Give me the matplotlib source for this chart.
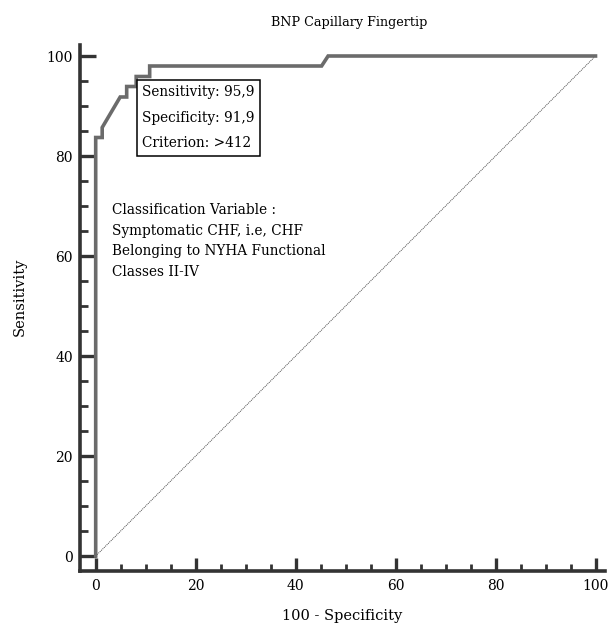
import matplotlib
matplotlib.use("Agg")
import matplotlib.pyplot as plt
from matplotlib.ticker import MultipleLocator

# ROC curve points (100 - specificity, sensitivity)
fpr = [0, 0, 1.3, 1.3, 4.9, 6.2, 6.2, 8.1, 8.1, 10.8, 10.8, 45.2, 46.5, 100]
tpr = [0, 83.7, 83.7, 85.7, 91.8, 91.8, 93.9, 93.9, 95.9, 95.9, 98.0, 98.0, 100, 100]

# Optimal criterion
crit_fpr = 8.1
crit_sens = 95.9
crit_spec = 91.9
crit_label = ">412"

title = "BNP Capillary Fingertip"
xlabel = "100 - Specificity"
ylabel = "Sensitivity"
note_lines = ["Classification Variable :",
              "Symptomatic CHF, i.e, CHF",
              "Belonging to NYHA Functional",
              "Classes II-IV"]
major_ticks = [0, 20, 40, 60, 80, 100]

plt.rcParams['font.family'] = ['DejaVu Serif']
fig = plt.figure(figsize=(6.13, 6.25), dpi=100)
ax = fig.add_axes([80/613, 1-571/625, (605-80)/613, (571-45)/625])

ax.set_xlim(-3.14, 101.9)
ax.set_ylim(-3.0, 102.2)

# chance line
ax.plot([0, 100], [0, 100], color='#444444', lw=0.7, ls=(0, (1.0, 1.0)))
# ROC curve
ax.plot(fpr, tpr, color='#6b6b6b', lw=2.6, solid_joinstyle='miter', zorder=3)

for s in ['top', 'right']:
    ax.spines[s].set_visible(False)
for s in ['left', 'bottom']:
    ax.spines[s].set_linewidth(2.6)
    ax.spines[s].set_color('#333333')

ax.set_xticks(major_ticks)
ax.set_yticks(major_ticks)
ax.xaxis.set_minor_locator(MultipleLocator(5))
ax.yaxis.set_minor_locator(MultipleLocator(5))
ax.tick_params(axis='x', which='major', direction='in', length=9.5, width=2.4,
               color='#333333', labelsize=10, pad=6)
ax.tick_params(axis='x', which='minor', direction='in', length=5, width=2.0,
               color='#333333')
ax.tick_params(axis='y', which='major', direction='in', length=11.5, width=2.4,
               color='#333333', labelsize=10, pad=5)
ax.tick_params(axis='y', which='minor', direction='in', length=5.8, width=2.0,
               color='#333333')

ax.set_xlabel(xlabel, fontsize=10.5, labelpad=11)
ax.set_ylabel(ylabel, fontsize=10.5)
ax.yaxis.set_label_coords(-0.102, 0.521)
ax.set_title(title, fontsize=9.2, pad=14, x=(349-80)/(605-80))

box_text = f"Sensitivity: {crit_sens:.1f}\nSpecificity: {crit_spec:.1f}\nCriterion: {crit_label}".replace('.', ',')
ax.text(crit_fpr + 1.2, crit_sens - 1.7, box_text, ha='left', va='top',
        fontsize=9.8, linespacing=2.05, zorder=4,
        bbox=dict(boxstyle='square,pad=0.4', fc='white', ec='black', lw=1.1))

ax.text(3.2, 70.6, "\n".join(note_lines), ha='left', va='top', fontsize=9.8,
        linespacing=1.6)

fig.savefig("out.png", dpi=100)
